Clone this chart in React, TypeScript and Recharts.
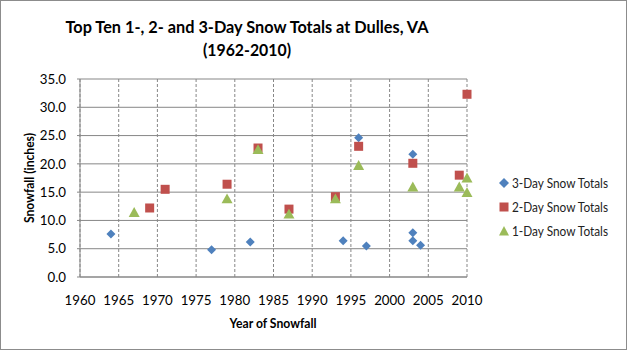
import React from 'react';
import { ScatterChart, Scatter, XAxis, YAxis, CartesianGrid, Legend } from 'recharts';

const threeDayYears = [1964, 1977, 1982, 1994, 1996, 1997, 2003, 2003, 2003, 2004];
const threeDayValues = [7.6, 4.8, 6.2, 6.4, 24.6, 5.5, 21.7, 7.8, 6.4, 5.6];
const twoDayYears = [1969, 1971, 1979, 1983, 1987, 1993, 1996, 2003, 2009, 2010];
const twoDayValues = [12.2, 15.5, 16.4, 22.8, 12.0, 14.2, 23.1, 20.1, 18.0, 32.3];
const oneDayYears = [1967, 1979, 1983, 1987, 1993, 1996, 2003, 2009, 2010, 2010];
const oneDayValues = [11.4, 13.8, 22.5, 11.1, 13.8, 19.7, 15.9, 15.9, 17.5, 14.9];
const xTicks = [1960, 1965, 1970, 1975, 1980, 1985, 1990, 1995, 2000, 2005, 2010];
const yTicks = [0, 5, 10, 15, 20, 25, 30, 35];

const seriesNames = ['3-Day Snow Totals', '2-Day Snow Totals', '1-Day Snow Totals'];
const colors = ['#4F81BD', '#C0504D', '#9BBB59'];

const toPoints = (xs: number[], ys: number[]) => xs.map((x, i) => ({ x, y: ys[i] }));
const threeDay = toPoints(threeDayYears, threeDayValues);
const twoDay = toPoints(twoDayYears, twoDayValues);
const oneDay = toPoints(oneDayYears, oneDayValues);

const FONT = "Lato, 'Noto Sans', sans-serif";

const Diamond = (props: any) => {
  const { cx, cy } = props;
  const r = 4.5;
  return <path d={`M${cx},${cy - r}L${cx + r},${cy}L${cx},${cy + r}L${cx - r},${cy}Z`} fill={colors[0]} />;
};
const Square = (props: any) => {
  const { cx, cy } = props;
  const r = 4.5;
  return <rect x={cx - r} y={cy - r} width={2 * r} height={2 * r} fill={colors[1]} />;
};
const Triangle = (props: any) => {
  const { cx, cy } = props;
  const r = 5.5;
  return <path d={`M${cx},${cy - r}L${cx + r},${cy + r * 0.8}L${cx - r},${cy + r * 0.8}Z`} fill={colors[2]} />;
};

const legendMarker = (i: number, cy: number) => {
  if (i === 0) return <path d={`M5,${cy - 5}L10,${cy}L5,${cy + 5}L0,${cy}Z`} fill={colors[0]} />;
  if (i === 1) return <rect x={0.5} y={cy - 4.5} width={9} height={9} fill={colors[1]} />;
  return <path d={`M5,${cy - 5}L10,${cy + 4.5}L0,${cy + 4.5}Z`} fill={colors[2]} />;
};

const LegendContent = () => (
  <svg width={124} height={72} style={{ display: 'block' }}>
    {seriesNames.map((n, i) => {
      const cy = 12 + i * 24;
      return (
        <g key={n}>
          {legendMarker(i, cy)}
          <text x={13} y={cy + 4.5} fontFamily={FONT} fontSize={13} fill="#222" textLength={96} lengthAdjust="spacingAndGlyphs">
            {n}
          </text>
        </g>
      );
    })}
  </svg>
);

export default function App() {
  return (
    <div style={{ position: 'absolute', left: 0, top: 0, width: 627, height: 350, background: '#fff' }}>
      <div style={{ position: 'absolute', left: 0, top: 0, width: 625, height: 348, border: '1px solid #8c8c8c' }} />
      <ScatterChart width={627} height={350} margin={{ top: 79, right: 160, bottom: 33, left: 20 }}>
        <text x={247} y={33} textAnchor="middle" fontFamily={FONT} fontWeight="bold" fontSize={17.5} fill="#000" textLength={363} lengthAdjust="spacingAndGlyphs">
          Top Ten 1-, 2- and 3-Day Snow Totals at Dulles, VA
        </text>
        <text x={247} y={56} textAnchor="middle" fontFamily={FONT} fontWeight="bold" fontSize={17.5} fill="#000" textLength={88} lengthAdjust="spacingAndGlyphs">
          (1962-2010)
        </text>
        <text x={273} y={328} textAnchor="middle" fontFamily={FONT} fontWeight="bold" fontSize={13} fill="#000" textLength={87} lengthAdjust="spacingAndGlyphs">
          Year of Snowfall
        </text>
        <text x={34} y={178} textAnchor="middle" fontFamily={FONT} fontWeight="bold" fontSize={13} fill="#000" transform="rotate(-90 34 178)" textLength={90} lengthAdjust="spacingAndGlyphs">
          Snowfall (inches)
        </text>
        <CartesianGrid vertical={false} stroke="#878787" strokeWidth={1} />
        <CartesianGrid horizontal={false} stroke="#878787" strokeWidth={1} strokeDasharray="3 2" />
        <XAxis
          type="number"
          dataKey="x"
          domain={[1960, 2010]}
          ticks={xTicks}
          height={40}
          stroke="#878787"
          tickLine={false}
          tickMargin={13}
          tick={{ fontFamily: FONT, fontSize: 13.3, fill: '#000' }}
          interval={0}
        />
        <YAxis
          type="number"
          dataKey="y"
          domain={[0, 35]}
          ticks={yTicks}
          width={60}
          stroke="#878787"
          tickSize={3}
          tickMargin={11}
          tickFormatter={(v: number) => v.toFixed(1)}
          tick={{ fontFamily: FONT, fontSize: 13.3, fill: '#000' }}
          interval={0}
        />
        <Legend
          layout="vertical"
          verticalAlign="middle"
          align="center"
          wrapperStyle={{ left: 499, top: 171, width: 124 }}
          content={<LegendContent />}
        />
        <Scatter name={seriesNames[0]} data={threeDay} shape={<Diamond />} isAnimationActive={false} />
        <Scatter name={seriesNames[1]} data={twoDay} shape={<Square />} isAnimationActive={false} />
        <Scatter name={seriesNames[2]} data={oneDay} shape={<Triangle />} isAnimationActive={false} />
      </ScatterChart>
    </div>
  );
}
